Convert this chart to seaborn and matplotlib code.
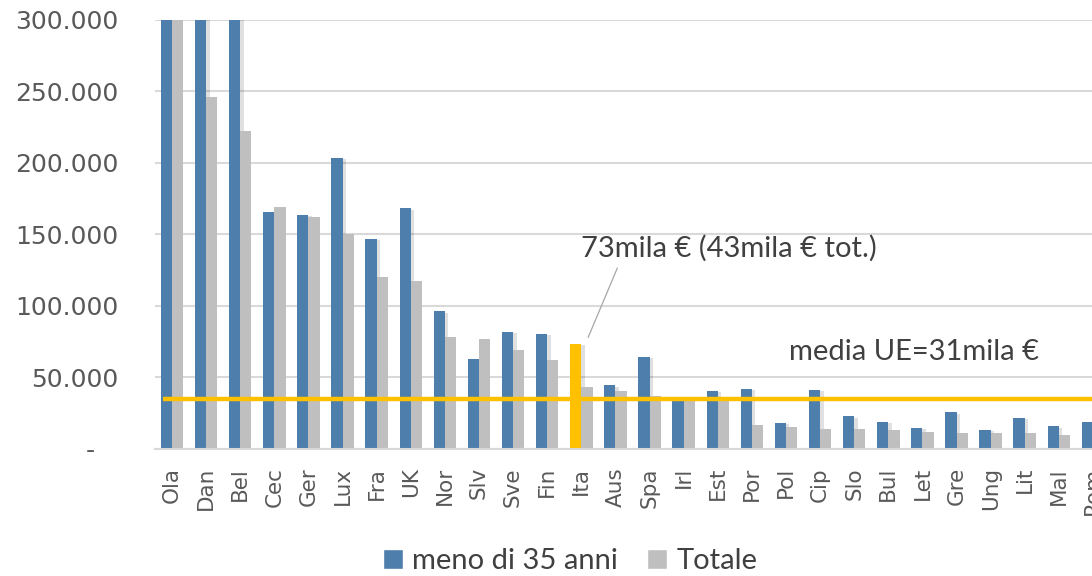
import matplotlib
matplotlib.use('Agg')
import matplotlib.pyplot as plt
import matplotlib.patheffects as pe
from matplotlib.ticker import FuncFormatter
import seaborn as sns
import pandas as pd

paesi = ['Ola', 'Dan', 'Bel', 'Cec', 'Ger', 'Lux', 'Fra', 'UK', 'Nor', 'Slv',
         'Sve', 'Fin', 'Ita', 'Aus', 'Spa', 'Irl', 'Est', 'Por', 'Pol', 'Cip',
         'Slo', 'Bul', 'Let', 'Gre', 'Ung', 'Lit', 'Mal', 'Rom']
meno_35 = [340000, 320000, 310000, 165900, 163600, 203500, 146900, 168300, 96300, 62700,
           81800, 80400, 73400, 44500, 64600, 36100, 40600, 42000, 18200, 41300,
           22900, 19100, 14700, 25700, 13300, 21700, 15900, 18900]
totale = [310000, 246100, 222400, 169200, 161900, 150400, 120500, 117500, 78500, 76700,
          69200, 62200, 43100, 40300, 37100, 36000, 36600, 16800, 15200, 14000,
          13800, 13100, 11900, 11200, 11200, 11200, 10000, 10000]
serie = ['meno di 35 anni', 'Totale']
media_ue = 34700

blu = '#4E7EAB'
grigio = '#BFBFBF'
giallo = '#FFC000'
testo = '#404040'
tick_col = '#595959'
griglia = '#D9D9D9'

df = pd.DataFrame({
    'paese': paesi * 2,
    'valore': meno_35 + totale,
    'serie': [serie[0]] * len(paesi) + [serie[1]] * len(paesi),
})

sns.set_theme(style='white')
plt.rcParams['font.family'] = ['DejaVu Sans']

fig = plt.figure(figsize=(10.92, 5.76), dpi=100)
ax = fig.add_axes([0.1419, 0.2205, 0.8746, 0.7448])

sns.barplot(data=df, x='paese', y='valore', hue='serie', order=paesi,
            hue_order=serie, palette=[blu, grigio], width=0.66, gap=0,
            saturation=1, ax=ax, zorder=3)

# ombra leggera solo sulle barre blu, come nell'originale
shadow = [pe.SimplePatchShadow(offset=(2.5, -1), shadow_rgbFace='black', alpha=0.12), pe.Normal()]
for i, cont in enumerate(ax.containers):
    for bar in cont:
        bar.set_edgecolor('none')
        if i == 0:
            bar.set_path_effects(shadow)
# Italia evidenziata
ax.containers[0][paesi.index('Ita')].set_facecolor(giallo)

ax.set_ylim(0, 300000)
ax.set_xlim(-0.5, len(paesi) - 0.5)
ax.set_yticks(range(0, 300001, 50000))
ax.yaxis.set_major_formatter(FuncFormatter(
    lambda v, p: '-   ' if v == 0 else f'{int(v):,}'.replace(',', '.')))
ax.grid(axis='y', color=griglia, lw=1.5, zorder=0)
ax.grid(axis='x', visible=False)
for s in ['top', 'right', 'left']:
    ax.spines[s].set_visible(False)
ax.spines['bottom'].set_color(griglia)
ax.spines['bottom'].set_linewidth(1.5)
ax.spines['bottom'].set_zorder(4)

ax.tick_params(axis='y', length=0, pad=26, labelsize=18, labelcolor=tick_col)
ax.tick_params(axis='x', length=0, pad=13, labelsize=15.5, labelcolor=tick_col,
               labelrotation=90)
ax.set_xlabel('')
ax.set_ylabel('')

# linea media UE
ax.plot([-0.25, len(paesi)], [media_ue, media_ue], color=giallo, lw=3.2,
        zorder=5, solid_capstyle='butt')

ann_font = ['Lato', 'DejaVu Sans']
ax.annotate('73mila € (43mila € tot.)', xy=(12.2, 78000), xytext=(12.0, 140000),
            ha='left', va='center', fontsize=21, color=testo, family=ann_font,
            arrowprops=dict(arrowstyle='-', color='#A6A6A6', lw=0.9,
                            relpos=(0.13, 0.0), shrinkA=2, shrinkB=0))
ax.text(18.1, 68000, 'media UE=31mila €', ha='left', va='center', fontsize=21,
        color=testo, family=ann_font)

handles, labels = ax.get_legend_handles_labels()
leg = ax.legend(handles, labels, loc='center', bbox_to_anchor=(0.522, 0.026),
                bbox_transform=fig.transFigure, ncol=2, frameon=False,
                handlelength=0.7, handleheight=0.7, handletextpad=0.3,
                columnspacing=1.0, prop={'family': ann_font, 'size': 21})
for t in leg.get_texts():
    t.set_color(testo)

fig.savefig('out.png', dpi=100)
